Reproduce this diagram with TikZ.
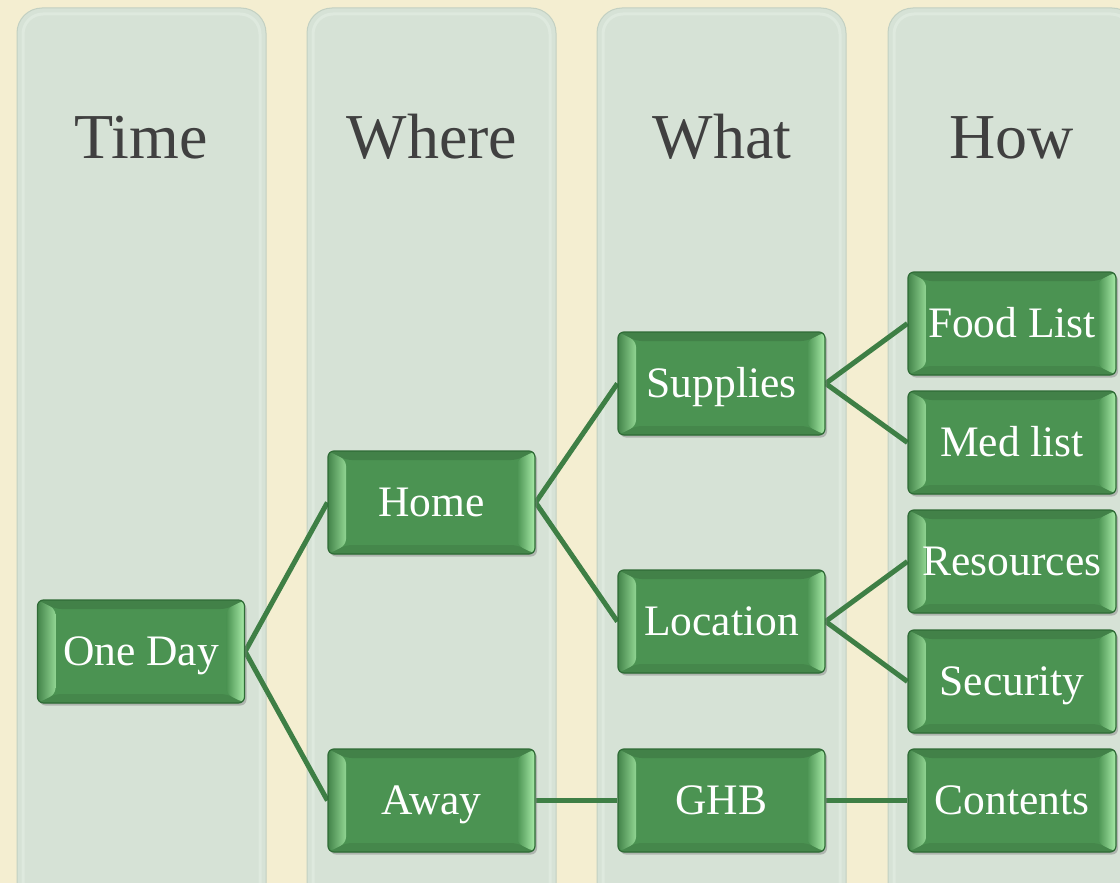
\documentclass[tikz,border=0pt]{standalone}
\usepackage{fontspec}
\setmainfont{Liberation Serif}
\usetikzlibrary{shadows,calc}
\definecolor{bg}{HTML}{F4EED1}
\definecolor{panel}{HTML}{D6E2D6}
\definecolor{paneledge}{HTML}{C2D0C2}
\definecolor{panellight}{HTML}{DEE9DE}
\definecolor{boxgreen}{HTML}{4B9352}
\definecolor{boxdark}{HTML}{2F6B36}
\definecolor{boxlight}{HTML}{A8EBA8}
\definecolor{linkgreen}{HTML}{3E7F45}
\definecolor{titlegray}{HTML}{404040}
\pgfdeclarelayer{panels}
\pgfdeclarelayer{links}
\pgfsetlayers{panels,links,main}
\tikzset{
  x=1pt, y=-1pt,
  panelbox/.style={fill=panel, draw=paneledge, line width=1pt, rounded corners=25pt},
  panelhi/.style={draw=panellight, line width=3pt, rounded corners=20pt},
  coltitle/.style={anchor=base, text=titlegray, font=\fontsize{64}{70}\selectfont, inner sep=0pt},
  link/.style={draw=linkgreen, line width=5pt},
  greenbox/.style={rectangle, rounded corners=6pt, fill=boxgreen, draw=boxdark, line width=1.2pt,
    minimum width=207pt, minimum height=103pt, inner sep=0pt, text=white,
    font=\fontsize{43.5}{47}\selectfont, text height=29pt, text depth=1pt,
    drop shadow={shadow xshift=2pt, shadow yshift=-2.5pt, opacity=.45},
    path picture={
      \coordinate (pnw) at (path picture bounding box.north west);
      \coordinate (pse) at (path picture bounding box.south east);
      \coordinate (pne) at (pnw -| pse);
      \coordinate (psw) at (pnw |- pse);
      \coordinate (inw) at ($(pnw)+(18pt,-9pt)$);
      \coordinate (ine) at ($(pne)+(-18pt,-9pt)$);
      \coordinate (ise) at ($(pse)+(-18pt,9pt)$);
      \coordinate (isw) at ($(psw)+(18pt,9pt)$);
      \fill[boxgreen!88!black] (pnw) -- (pne) -- (ine) -- (inw) -- cycle;
      \fill[boxgreen!92!black] (psw) -- (pse) -- (ise) -- (isw) -- cycle;
      \shade[left color=boxgreen!90!black, right color=boxlight!75!boxgreen] (pnw) -- (inw) -- (isw) -- (psw) -- cycle;
      \shade[left color=boxgreen, right color=boxlight] (pne) -- (ine) -- (ise) -- (pse) -- cycle;
    }},
}
\begin{document}
\begin{tikzpicture}
\useasboundingbox (0,0) rectangle (1120,883);
\clip (0,0) rectangle (1120,883);
\begin{pgfonlayer}{panels}
\fill[bg] (0,0) rectangle (1120,883);
\foreach \x in {17,307,597,888}{
  \path[panelbox] (\x,8) rectangle ++(249,920);
  \path[panelhi] (\x+6,14) rectangle ++(237,920);
}
\end{pgfonlayer}

\node[coltitle] (ttime) at (141,158) {Time};
\node[coltitle] (twhere) at (432,158) {Where};
\node[coltitle] (twhat) at (722,158) {What};
\node[coltitle] (thow) at (1012,158) {How};

\node[greenbox] (oneday) at (141,651.5) {One Day};
\node[greenbox] (home) at (431.5,502.5) {Home};
\node[greenbox] (away) at (431.5,800.5) {Away};
\node[greenbox] (supplies) at (721.5,383.5) {Supplies};
\node[greenbox] (location) at (721.5,621.5) {Location};
\node[greenbox] (ghb) at (721.5,800.5) {GHB};
\node[greenbox, minimum width=208pt] (food) at (1012,323.5) {Food List};
\node[greenbox, minimum width=208pt] (med) at (1012,442.5) {Med list};
\node[greenbox, minimum width=208pt] (resources) at (1012,561.5) {Resources};
\node[greenbox, minimum width=208pt] (security) at (1012,681.5) {Security};
\node[greenbox, minimum width=208pt] (contents) at (1012,800.5) {Contents};

\begin{pgfonlayer}{links}
\draw[link] (oneday.east) -- (home.west);
\draw[link] (oneday.east) -- (away.west);
\draw[link] (home.east) -- (supplies.west);
\draw[link] (home.east) -- (location.west);
\draw[link] (away.east) -- (ghb.west);
\draw[link] (supplies.east) -- (food.west);
\draw[link] (supplies.east) -- (med.west);
\draw[link] (location.east) -- (resources.west);
\draw[link] (location.east) -- (security.west);
\draw[link] (ghb.east) -- (contents.west);
\end{pgfonlayer}
\end{tikzpicture}
\end{document}
